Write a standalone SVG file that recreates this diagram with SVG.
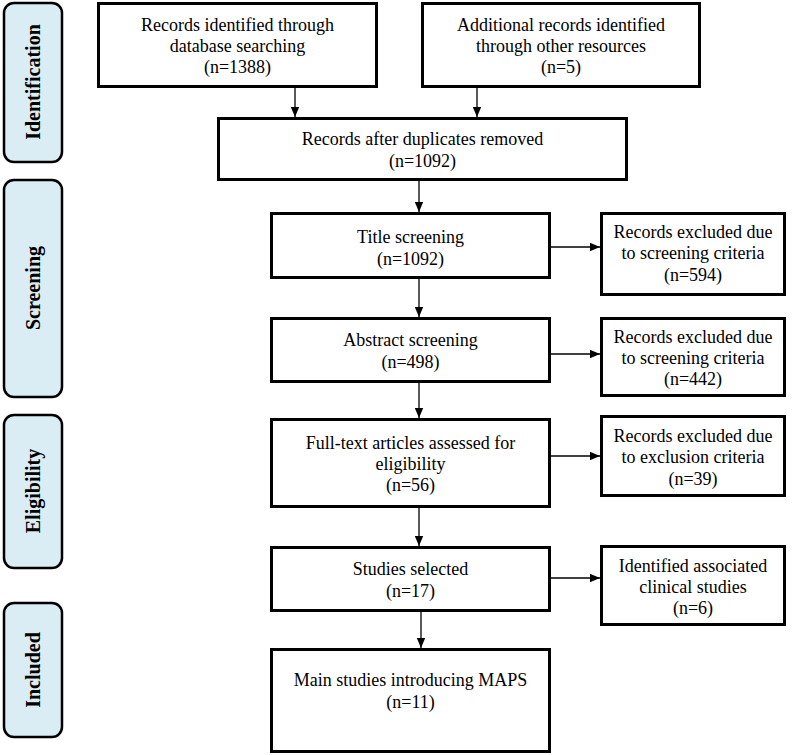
<svg xmlns="http://www.w3.org/2000/svg" width="800" height="755" viewBox="0 0 800 755">
<style>
.box{fill:#fff;stroke:#000;stroke-width:3}
.lab{fill:#daedf4;stroke:#000;stroke-width:2.5}
.t{font-family:"Liberation Serif","Times New Roman",serif;font-size:18px;fill:#000;text-anchor:middle}
.lt{font-family:"Liberation Serif","Times New Roman",serif;font-size:20px;font-weight:bold;fill:#000;text-anchor:middle}
.c{fill:none;stroke:#000;stroke-width:1.3}
</style>
<defs>
<marker id="ah" markerUnits="userSpaceOnUse" markerWidth="10" markerHeight="10" refX="10" refY="5" orient="auto">
<path d="M0,0.8 L10,5 L0,9.2 Z" fill="#000"/>
</marker>
</defs>
<rect width="800" height="755" fill="#fff"/>
<g id="stage-identification"><rect class="lab" x="4" y="3" width="58" height="159" rx="10"/><text class="lt" transform="translate(40,82) rotate(-90)">Identification</text></g>
<g id="stage-screening"><rect class="lab" x="4" y="180" width="58" height="217" rx="10"/><text class="lt" transform="translate(40,288) rotate(-90)">Screening</text></g>
<g id="stage-eligibility"><rect class="lab" x="4" y="415" width="58" height="153" rx="10"/><text class="lt" transform="translate(40,491) rotate(-90)">Eligibility</text></g>
<g id="stage-included"><rect class="lab" x="4" y="603" width="58" height="134" rx="10"/><text class="lt" transform="translate(40,670) rotate(-90)">Included</text></g>

<g id="db-records"><rect class="box" x="98.5" y="3.5" width="278" height="83"/>
<text class="t" x="237.5" y="31">Records identified through</text><text class="t" x="237.5" y="52">database searching</text><text class="t" x="237.5" y="73">(n=1388)</text></g>
<g id="other-records"><rect class="box" x="422.5" y="3.5" width="277" height="83"/>
<text class="t" x="561" y="31">Additional records identified</text><text class="t" x="561" y="52">through other resources</text><text class="t" x="561" y="73">(n=5)</text></g>
<g id="dedup"><rect class="box" x="218.5" y="118.5" width="408" height="61"/>
<text class="t" x="422.5" y="145">Records after duplicates removed</text><text class="t" x="422.5" y="167">(n=1092)</text></g>
<g id="title-screening"><rect class="box" x="271.5" y="213.5" width="278" height="64"/>
<text class="t" x="410.5" y="243">Title screening</text><text class="t" x="410.5" y="265">(n=1092)</text></g>
<g id="excl-1"><rect class="box" x="601.5" y="213.5" width="183" height="81"/>
<text class="t" x="693" y="238">Records excluded due</text><text class="t" x="693" y="259">to screening criteria</text><text class="t" x="693" y="281">(n=594)</text></g>
<g id="abstract-screening"><rect class="box" x="271.5" y="318.5" width="278" height="63"/>
<text class="t" x="410.5" y="346">Abstract screening</text><text class="t" x="410.5" y="368">(n=498)</text></g>
<g id="excl-2"><rect class="box" x="601.5" y="318.5" width="183" height="77"/>
<text class="t" x="693" y="343">Records excluded due</text><text class="t" x="693" y="364">to screening criteria</text><text class="t" x="693" y="385">(n=442)</text></g>
<g id="fulltext"><rect class="box" x="271.5" y="419.5" width="278" height="87"/>
<text class="t" x="410.5" y="449">Full-text articles assessed for</text><text class="t" x="410.5" y="470">eligibility</text><text class="t" x="410.5" y="491">(n=56)</text></g>
<g id="excl-3"><rect class="box" x="601.5" y="416.5" width="183" height="79"/>
<text class="t" x="693" y="442">Records excluded due</text><text class="t" x="693" y="463">to exclusion criteria</text><text class="t" x="693" y="485">(n=39)</text></g>
<g id="studies-selected"><rect class="box" x="271.5" y="547.5" width="278" height="63"/>
<text class="t" x="410.5" y="575">Studies selected</text><text class="t" x="410.5" y="597">(n=17)</text></g>
<g id="associated"><rect class="box" x="601.5" y="546.5" width="183" height="78"/>
<text class="t" x="693" y="572">Identified associated</text><text class="t" x="693" y="593">clinical studies</text><text class="t" x="693" y="614">(n=6)</text></g>
<g id="main-studies"><rect class="box" x="271.5" y="649.5" width="278" height="102"/>
<text class="t" x="410.5" y="686">Main studies introducing MAPS</text><text class="t" x="410.5" y="708">(n=11)</text></g>

<g id="connectors">
<line class="c" x1="295" y1="88" x2="295" y2="117" marker-end="url(#ah)"/>
<line class="c" x1="477" y1="88" x2="477" y2="117" marker-end="url(#ah)"/>
<line class="c" x1="419" y1="181" x2="419" y2="212" marker-end="url(#ah)"/>
<line class="c" x1="419" y1="279" x2="419" y2="317" marker-end="url(#ah)"/>
<line class="c" x1="419" y1="383" x2="419" y2="418" marker-end="url(#ah)"/>
<line class="c" x1="419" y1="508" x2="419" y2="546" marker-end="url(#ah)"/>
<line class="c" x1="421" y1="612" x2="421" y2="648" marker-end="url(#ah)"/>
<line class="c" x1="551" y1="247" x2="600" y2="247" marker-end="url(#ah)"/>
<line class="c" x1="551" y1="354" x2="600" y2="354" marker-end="url(#ah)"/>
<line class="c" x1="551" y1="456" x2="600" y2="456" marker-end="url(#ah)"/>
<line class="c" x1="551" y1="578" x2="600" y2="578" marker-end="url(#ah)"/>
</g>
</svg>
